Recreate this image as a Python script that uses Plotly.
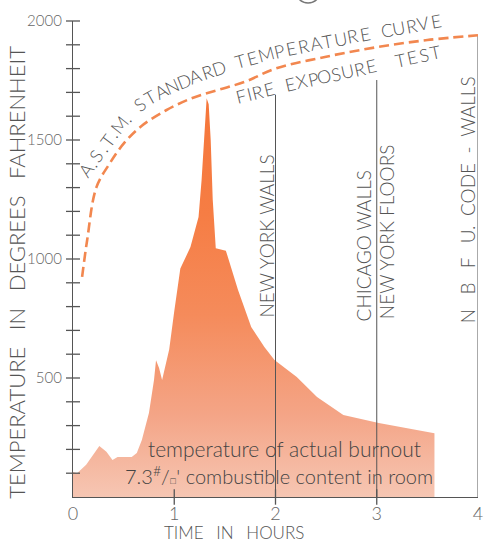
import math
import numpy as np
import plotly.graph_objects as go

# ASTM standard fire-exposure curve (hours, deg F)
astm_hours = [0.09, 0.14, 0.23, 0.36, 0.51, 0.68, 0.92, 1.17, 1.43, 1.70, 2.0, 2.5, 3.0, 3.5, 4.0]
astm_temp = [925, 1080, 1300, 1400, 1490, 1560, 1625, 1675, 1710, 1745, 1800, 1850, 1890, 1920, 1940]

# actual burnout, 7.3 lb/sq ft combustible content
burn_hours = [0.0, 0.04, 0.13, 0.26, 0.33, 0.39, 0.44, 0.58, 0.63, 0.68, 0.75, 0.80, 0.82, 0.85,
              0.88, 0.91, 0.95, 1.0, 1.06, 1.16, 1.24, 1.27, 1.29, 1.31, 1.32, 1.34, 1.36, 1.38,
              1.41, 1.51, 1.56, 1.63, 1.76, 1.89, 1.99, 2.21, 2.41, 2.67, 3.02, 3.35, 3.57]
burn_temp = [105, 100, 135, 214, 190, 155, 168, 168, 185, 240, 353, 492, 575, 542,
             492, 546, 620, 780, 960, 1050, 1176, 1332, 1470, 1640, 1675, 1650, 1500, 1250,
             1045, 1035, 966, 870, 714, 630, 576, 504, 420, 345, 311, 285, 268]

# code requirement lines
code_hours = [2, 3, 4]
code_top = [1690, 1752, 1940]

y_minor = list(range(100, 2001, 100))
x_ticks = [1, 2, 3]

W, H = 489, 543
ML, MR, MT, MB = 73, 6, 21, 46
PW, PH = W - ML - MR, H - MT - MB
FONT = "Lato"
INK = "#555"


def paper(px, py):
    return (px - ML) / PW, (H - MB - py) / PH


fig = go.Figure()

fig.add_trace(go.Scatter(
    x=burn_hours, y=burn_temp, mode="lines", line=dict(width=0),
    fill="tozeroy",
    fillgradient=dict(type="vertical", start=0, stop=1700,
                      colorscale=[[0, "#F6C6B3"], [0.2, "#F4A587"], [0.45, "#F58B5B"],
                                  [0.7, "#F67D44"], [1, "#F5763A"]]),
    hoverinfo="skip", showlegend=False))

for h, top in zip(code_hours, code_top):
    fig.add_trace(go.Scatter(x=[h, h], y=[0, top], mode="lines",
                             line=dict(color=INK, width=1), showlegend=False, hoverinfo="skip"))

fig.add_trace(go.Scatter(
    x=astm_hours, y=astm_temp, mode="lines", line_shape="spline",
    line=dict(color="#F2874F", width=2.6, dash="10px,5px"), showlegend=False))

# cross-style ticks on both axes
fig.add_trace(go.Scatter(
    x=[0] * len(y_minor), y=y_minor, mode="markers", cliponaxis=False,
    marker=dict(symbol="line-ew", size=10, color=INK, line=dict(color=INK, width=1.3)),
    showlegend=False, hoverinfo="skip"))
fig.add_trace(go.Scatter(
    x=x_ticks, y=[0] * len(x_ticks), mode="markers", cliponaxis=False,
    marker=dict(symbol="line-ns", size=11, color=INK, line=dict(color=INK, width=1.3)),
    showlegend=False, hoverinfo="skip"))


def char_w(c):
    if c in "MW":
        return 1.25
    if c in "I.":
        return 0.45
    if c == " ":
        return 0.8
    return 1.0


def path_text(s, pts, size):
    # lay single letters along a polyline (pixel coords), turned to its tangent
    pts = np.array(pts, float)
    seg = np.hypot(*np.diff(pts, axis=0).T)
    cum = np.concatenate([[0], np.cumsum(seg)])
    w = np.array([char_w(c) for c in s])
    cen = np.cumsum(w) - w / 2
    cen = (cen - cen[0]) / (cen[-1] - cen[0]) * cum[-1]
    for c, d in zip(s, cen):
        if c == " ":
            continue
        x = np.interp(d, cum, pts[:, 0])
        y = np.interp(d, cum, pts[:, 1])
        x1, y1 = np.interp(d - 8, cum, pts[:, 0]), np.interp(d - 8, cum, pts[:, 1])
        x2, y2 = np.interp(d + 8, cum, pts[:, 0]), np.interp(d + 8, cum, pts[:, 1])
        ang = math.degrees(math.atan2(y2 - y1, x2 - x1))
        xp, yp = paper(x, y)
        fig.add_annotation(x=xp, y=yp, xref="paper", yref="paper", text=c, showarrow=False,
                           textangle=ang, xanchor="center", yanchor="middle",
                           font=dict(family=FONT, size=size, color=INK, weight=300))


path_text("A.S.T.M. STANDARD TEMPERATURE CURVE",
          [(86, 170), (97, 155), (110, 137), (125, 118), (145, 101), (170, 87), (200, 75),
           (235, 63), (280, 51), (330, 41), (380, 32), (440, 21)], 18)
path_text("FIRE EXPOSURE  TEST", [(243, 96), (292, 84), (370, 67), (440, 52)], 18)


def label(text, px, py, size, angle=0, color=INK):
    xp, yp = paper(px, py)
    fig.add_annotation(x=xp, y=yp, xref="paper", yref="paper", text=text, showarrow=False,
                       textangle=angle, xanchor="center", yanchor="middle",
                       font=dict(family=FONT, size=size, color=color, weight=300))


EM, EN = "\u2003", "\u2002"
label("NEW YORK WALLS", 269, 236, 19, -90)
label("CHICAGO WALLS", 367, 246, 19, -90)
label("NEW YORK FLOORS", 390, 232, 19, -90)
label(f"N{EM}B{EM}F{EM}U.{EN}CODE{EN}-{EN}WALLS", 472, 200, 19, -90)
label(f"TEMPERATURE{EM}IN{EM}DEGREES{EM}FAHRENHEIT", 15, 272, 22, -90)
label(f"TIME{EM}IN{EM}HOURS", 236, 532, 17)
label("temperature of actual burnout", 287, 448, 21, color="#444")
label("7.3<sup>#</sup>/<span style='font-size:11px'>□</span>' combustible content in room",
      282, 475, 20, color="#444")

cx0, cy0 = paper(298, -24)
cx1, cy1 = paper(324, 3)
fig.add_shape(type="circle", xref="paper", yref="paper", x0=cx0, x1=cx1, y0=cy1, y1=cy0,
              line=dict(color="#777", width=1.5))

fig.update_layout(
    width=W, height=H, margin=dict(l=ML, r=MR, t=MT, b=MB),
    paper_bgcolor="white", plot_bgcolor="white",
    xaxis=dict(range=[0, 4], showgrid=False, zeroline=False, showline=True, linecolor=INK,
               linewidth=1.2, tickvals=[0, 1, 2, 3, 4], ticks="", ticklabelstandoff=0,
               tickfont=dict(family=FONT, size=18, color="#666", weight=300)),
    yaxis=dict(range=[0, 2000], showgrid=False, zeroline=False, showline=True, linecolor=INK,
               linewidth=1.2, tickvals=[500, 1000, 1500, 2000], ticks="", ticklabelstandoff=7,
               tickfont=dict(family=FONT, size=15, color="#666", weight=300)),
)

fig.write_html("out.html", config={"displayModeBar": False},
               post_script="document.body.style.margin='0';")
